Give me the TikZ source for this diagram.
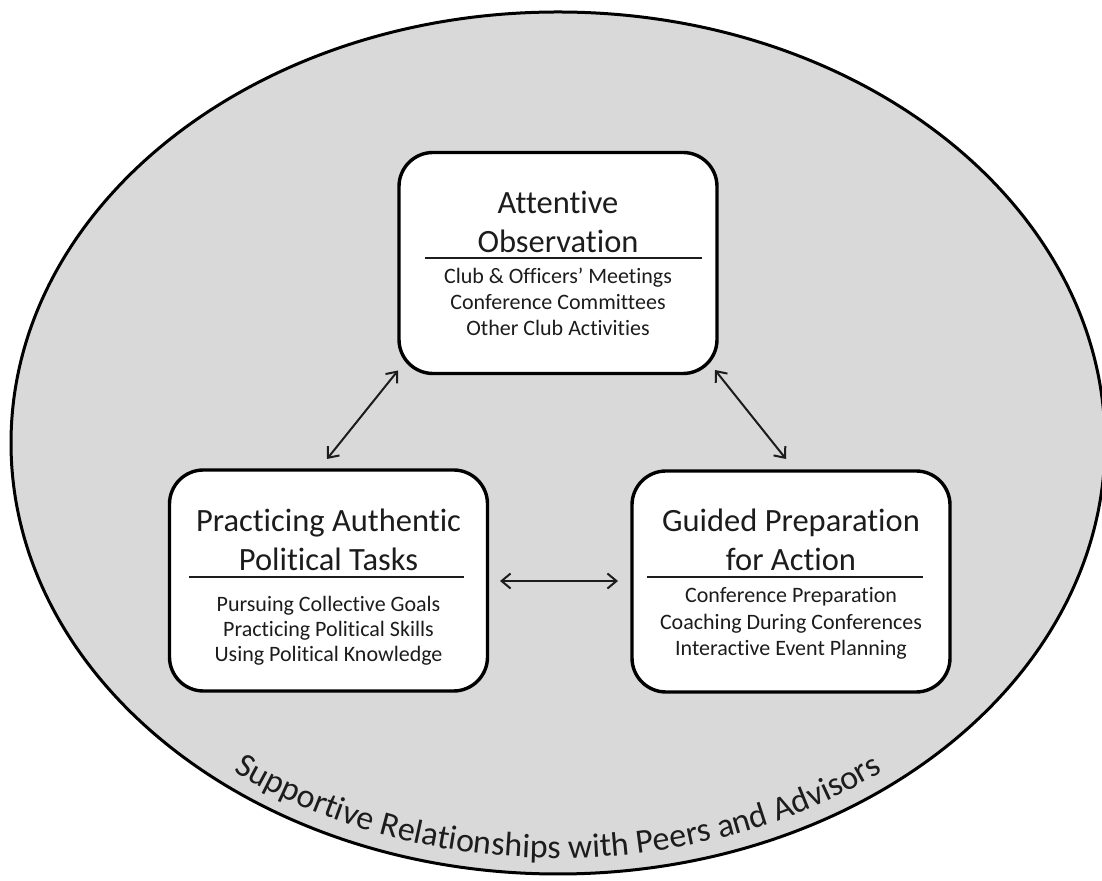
\documentclass[tikz,border=0pt]{standalone}
\usepackage{fontspec}
\setmainfont{Carlito}[Ligatures=NoCommon]
\usetikzlibrary{arrows.meta,calc,decorations.text}
\definecolor{ink}{HTML}{1C1C1C}
\definecolor{shade}{HTML}{D9D9D9}
\newcommand\bandfont{\fontsize{34}{40}\selectfont}
\tikzset{>={Straight Barb[length=9pt,width=15pt]},
  rim/.style={draw=black,fill=shade,line width=3pt},
  card/.style={draw=black,fill=white,line width=3.4pt,rounded corners=34pt,
    minimum width=318pt,minimum height=221pt,inner sep=0pt,outer sep=0pt},
  head/.style={anchor=base,text=ink,inner sep=0pt,font=\fontsize{32.5}{38}\selectfont},
  item/.style={anchor=base,text=ink,inner sep=0pt,font=\fontsize{22}{26}\selectfont},
  split/.style={draw=ink,line width=1.3pt},
  link/.style={draw=ink,line width=2pt,<->}}

\begin{document}
\begin{tikzpicture}[x=1pt,y=1pt]
  \useasboundingbox (0,0) rectangle (1102,880);
  \coordinate (mid) at (558,437);
  \draw[rim] (mid) ellipse [x radius=547,y radius=431];
  \node[card] (obs) at (558,617) {};
  \node[card] (task) at (328.5,299.5) {};
  \node[card] (prep) at (791,298.5) {};
  % headings and dividing rules
  \node[head] (obs-a) at ($(obs.center)+(0,49)$) {Attentive};
  \node[head] (obs-b) at ($(obs.center)+(0,10)$) {Observation};
  \draw[split] ($(obs.center)+(-133,5)$) -- ($(obs.center)+(144,5)$);
  \node[head] (task-a) at ($(task.center)+(0,48.5)$) {Practicing Authentic};
  \node[head] (task-b) at ($(task.center)+(0,9.5)$) {Political Tasks};
  \draw[split] ($(task.center)+(-139.5,3.5)$) -- ($(task.center)+(135.5,3.5)$);
  \node[head] (prep-a) at ($(prep.center)+(0,49.5)$) {Guided Preparation};
  \node[head] (prep-b) at ($(prep.center)+(0,11)$) {for Action};
  \draw[split] ($(prep.center)+(-144,4.5)$) -- ($(prep.center)+(132,4.5)$);
  % lists
  \foreach \t [count=\i] in {Club \& Officers’ Meetings,Conference Committees,Other Club Activities}
    \node[item] (obs-\i) at ($(obs.center)+(0,5-26*\i)$) {\t};
  \foreach \t [count=\i] in {Pursuing Collective Goals,Practicing Political Skills,Using Political Knowledge}
    \node[item] (task-\i) at ($(task.center)+(0,-6-25*\i)$) {\t};
  \foreach \t [count=\i] in {Conference Preparation,Coaching During Conferences,Interactive Event Planning}
    \node[item] (prep-\i) at ($(prep.center)+(0,5-26.5*\i)$) {\t};
  % connectors
  \draw[link] ($(obs.south west)+(-1,3)$) -- ($(task.north)+(-1.5,11)$);
  \draw[link] ($(obs.south east)+(-2,3.5)$) -- ($(prep.north)+(-5,12)$);
  \draw[link] ($(task.east)+(12.5,-0.5)$) -- ($(prep.west)+(-14,0.5)$);
  % curved caption
  \path[decorate,decoration={text along path,text align=center,
      text={|\bandfont\color{ink}|Supportive Relationships with Peers and Advisors}}]
    ($(mid)+(200:531 and 415)$) arc[start angle=200,end angle=340,x radius=531,y radius=415];
\end{tikzpicture}
\end{document}
